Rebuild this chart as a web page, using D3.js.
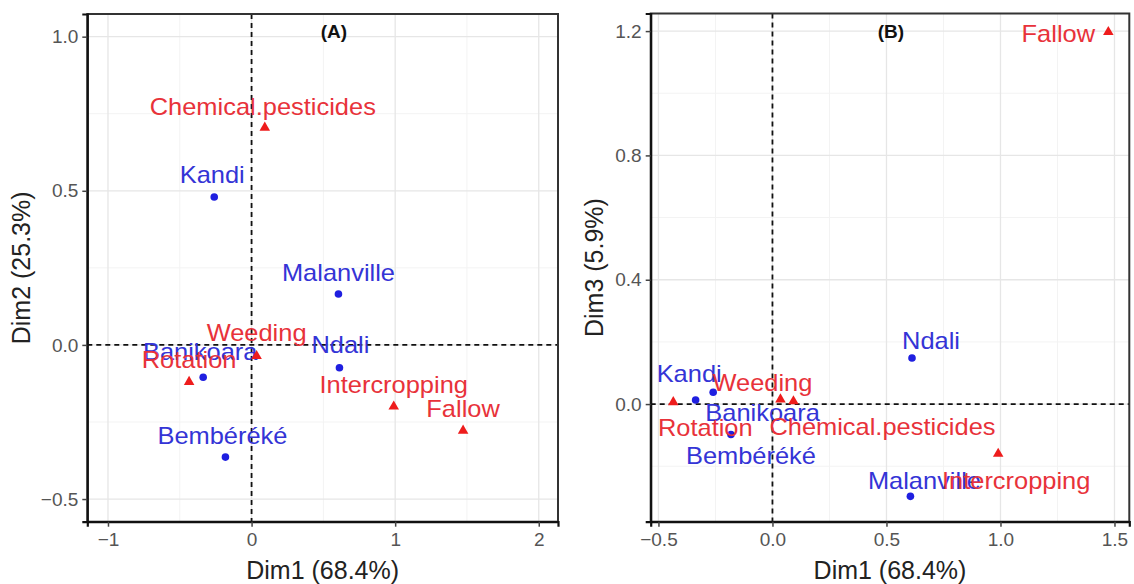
<!DOCTYPE html>
<html>
<head>
<meta charset="utf-8">
<script src="https://cdn.jsdelivr.net/npm/d3@7"></script>
<style>
  html, body { margin: 0; padding: 0; background: #ffffff; }
  svg { display: block; font-family: "Liberation Sans", Arial, sans-serif; }
</style>
</head>
<body>
<svg id="chart" width="1134" height="584"></svg>
<script>
// ---------------- data ----------------
const rowNames = ["Kandi", "Banikoara", "Bembéréké", "Ndali", "Malanville"];
const rowDim1 = [-0.26, -0.337, -0.182, 0.612, 0.605];
const rowDim2 = [0.48, -0.105, -0.364, -0.074, 0.165];
const rowDim3 = [0.038, 0.013, -0.098, 0.148, -0.297];

const colNames = ["Rotation", "Weeding", "Chemical.pesticides", "Intercropping", "Fallow"];
const colDim1 = [-0.435, 0.035, 0.092, 0.99, 1.473];
const colDim2 = [-0.12, -0.036, 0.705, -0.2, -0.278];
const colDim3 = [0.006, 0.015, 0.009, -0.16, 1.197];

const panelTitles = ["(A)", "(B)"];
const xTitle = "Dim1 (68.4%)";
const yTitles = ["Dim2 (25.3%)", "Dim3 (5.9%)"];
const xTicksA = [-1, 0, 1, 2];
const yTicksA = [-0.5, 0, 0.5, 1.0];
const xTicksB = [-0.5, 0, 0.5, 1.0, 1.5];
const yTicksB = [0, 0.4, 0.8, 1.2];

// ---------------- layout (label nudges in px, not data) ----------------
const labelNudgeA = {
  "Kandi": [-2, -14], "Banikoara": [-3, -17], "Bembéréké": [-3, -13], "Ndali": [1, -15],
  "Malanville": [0, -13], "Rotation": [0, -14], "Weeding": [0, -15],
  "Chemical.pesticides": [-2, -13], "Intercropping": [0, -14], "Fallow": [0, -14]
};
const labelNudgeB = {
  "Kandi": [-24, -10], "Banikoara": [67, 21], "Bembéréké": [20, 29], "Ndali": [19, -9],
  "Malanville": [14, -7], "Rotation": [32, 34], "Weeding": [-18, -8],
  "Chemical.pesticides": [89, 34], "Intercropping": [18, 35], "Fallow": [-50, 10]
};

const BLUE = "#1f1fe0", BLUE_TXT = "#3434d6";
const RED = "#ee1c1c", RED_TXT = "#e8323a";
const STRETCH = 1.06;

const svg = d3.select("#chart");
svg.append("rect").attr("width", 1134).attr("height", 584).attr("fill", "#fff");

function drawPanel(cfg) {
  const x = d3.scaleLinear().domain(cfg.xDom).range([cfg.left, cfg.right]);
  const y = d3.scaleLinear().domain(cfg.yDom).range([cfg.bottom, cfg.top]);
  const g = svg.append("g");

  // minor grid
  cfg.xMinor.forEach(v => g.append("line").attr("x1", x(v)).attr("x2", x(v))
    .attr("y1", cfg.top).attr("y2", cfg.bottom).attr("stroke", "#f3f3f3").attr("stroke-width", 1));
  cfg.yMinor.forEach(v => g.append("line").attr("y1", y(v)).attr("y2", y(v))
    .attr("x1", cfg.left).attr("x2", cfg.right).attr("stroke", "#f3f3f3").attr("stroke-width", 1));
  // major grid
  cfg.xTicks.forEach(v => g.append("line").attr("x1", x(v)).attr("x2", x(v))
    .attr("y1", cfg.top).attr("y2", cfg.bottom).attr("stroke", "#e6e6e6").attr("stroke-width", 1.3));
  cfg.yTicks.forEach(v => g.append("line").attr("y1", y(v)).attr("y2", y(v))
    .attr("x1", cfg.left).attr("x2", cfg.right).attr("stroke", "#e6e6e6").attr("stroke-width", 1.3));

  // dashed reference lines
  g.append("line").attr("x1", x(0)).attr("x2", x(0)).attr("y1", cfg.top).attr("y2", cfg.bottom)
    .attr("stroke", "#111").attr("stroke-width", 1.8).attr("stroke-dasharray", "5,4");
  g.append("line").attr("y1", y(0)).attr("y2", y(0)).attr("x1", cfg.left).attr("x2", cfg.right)
    .attr("stroke", "#111").attr("stroke-width", 1.8).attr("stroke-dasharray", "5,4");

  // panel border
  g.append("rect").attr("x", cfg.left).attr("y", cfg.top)
    .attr("width", cfg.right - cfg.left).attr("height", cfg.bottom - cfg.top)
    .attr("fill", "none").attr("stroke", "#333").attr("stroke-width", 2);

  // axes
  const ax = g.append("g").attr("transform", `translate(0,${cfg.bottom})`)
    .call(d3.axisBottom(x).tickValues(cfg.xTicks).tickSize(5).tickPadding(6).tickFormat(cfg.fmtX));
  const ay = g.append("g").attr("transform", `translate(${cfg.left},0)`)
    .call(d3.axisLeft(y).tickValues(cfg.yTicks).tickSize(5).tickPadding(4).tickFormat(d3.format(".1f")));
  [ax, ay].forEach(a => {
    a.select(".domain").attr("stroke", "#111").attr("stroke-width", 2.2);
    a.selectAll(".tick line").attr("stroke", "#444").attr("stroke-width", 1.5);
    a.selectAll(".tick text").attr("fill", "#555").attr("font-size", 19)
      .attr("font-family", "Liberation Sans, Arial, sans-serif");
  });

  // axis titles
  g.append("text").attr("x", (cfg.left + cfg.right) / 2).attr("y", 579)
    .attr("text-anchor", "middle").attr("font-size", 25).attr("fill", "#222").text(xTitle);
  g.append("text").attr("transform", `translate(${cfg.yTitleX},${(cfg.top + cfg.bottom) / 2}) rotate(-90)`)
    .attr("text-anchor", "middle").attr("font-size", 25).attr("fill", "#222").text(cfg.yTitle);

  // panel title
  g.append("text").attr("x", cfg.titleX).attr("y", 38).attr("text-anchor", "middle")
    .attr("font-size", 19).attr("font-weight", "bold").attr("fill", "#111").text(cfg.title);

  // row points (blue)
  rowNames.forEach((n, i) => {
    g.append("circle").attr("cx", x(rowDim1[i])).attr("cy", y(cfg.rowY[i])).attr("r", 3.8).attr("fill", BLUE);
  });
  rowNames.forEach((n, i) => {
    const px = x(rowDim1[i]), py = y(cfg.rowY[i]);
    const nd = cfg.nudge[n];
    g.append("text").attr("transform", `translate(${px + nd[0]},${py + nd[1]}) scale(${STRETCH},1)`)
      .attr("text-anchor", "middle").attr("font-size", 24).attr("fill", BLUE_TXT).text(n);
  });
  // column points (red triangles)
  const tri = d3.symbol().type(d3.symbolTriangle).size(48);
  colNames.forEach((n, i) => {
    g.append("path").attr("d", tri)
      .attr("transform", `translate(${x(colDim1[i])},${y(cfg.colY[i])})`).attr("fill", RED);
  });
  colNames.forEach((n, i) => {
    const px = x(colDim1[i]), py = y(cfg.colY[i]);
    const nd = cfg.nudge[n];
    g.append("text").attr("transform", `translate(${px + nd[0]},${py + nd[1]}) scale(${STRETCH},1)`)
      .attr("text-anchor", "middle").attr("font-size", 24).attr("fill", RED_TXT).text(n);
  });
}

drawPanel({
  left: 87.3, right: 558, top: 14, bottom: 521.7,
  xDom: [-1.144, 2.134], yDom: [-0.5735, 1.0735],
  xTicks: xTicksA, yTicks: yTicksA,
  xMinor: [-0.5, 0.5, 1.5], yMinor: [-0.25, 0.25, 0.75],
  fmtX: d3.format("d"),
  rowY: rowDim2, colY: colDim2, nudge: labelNudgeA,
  title: panelTitles[0], titleX: 334, yTitle: yTitles[0], yTitleX: 30
});

drawPanel({
  left: 650.7, right: 1129.3, top: 13.5, bottom: 521.7,
  xDom: [-0.534, 1.565], yDom: [-0.3785, 1.2566],
  xTicks: xTicksB, yTicks: yTicksB,
  xMinor: [-0.25, 0.25, 0.75, 1.25], yMinor: [-0.2, 0.2, 0.6, 1.0],
  fmtX: d3.format(".1f"),
  rowY: rowDim3, colY: colDim3, nudge: labelNudgeB,
  title: panelTitles[1], titleX: 891, yTitle: yTitles[1], yTitleX: 603
});
</script>
</body>
</html>
